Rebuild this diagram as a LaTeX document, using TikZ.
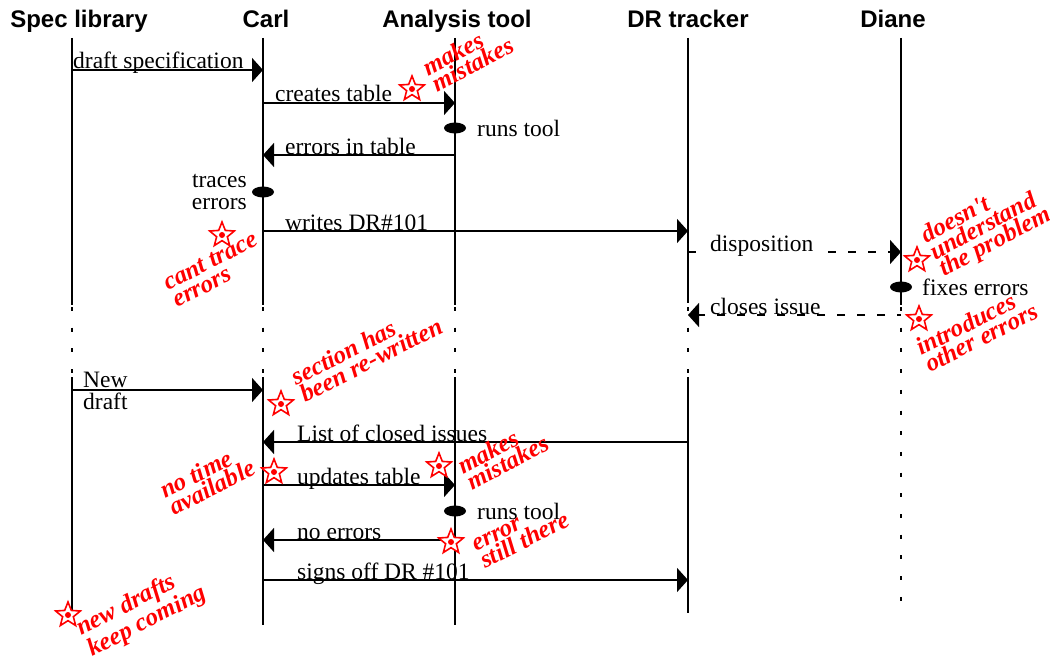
\documentclass[tikz,border=0pt]{standalone}
\usepackage{fontspec}
\setmainfont{Liberation Serif}
\newfontfamily\headfont{Liberation Sans}
\newfontfamily\notefont{Liberation Serif}
\usetikzlibrary{arrows.meta,shapes.geometric}

\tikzset{
  head/.style={font=\headfont\bfseries\fontsize{24}{26}\selectfont, anchor=base, inner sep=0pt},
  life/.style={line width=1.6pt},
  lifedash/.style={line width=1.3pt, dash pattern=on 4pt off 16.7pt},
  msg/.style={line width=1.6pt, -{Triangle[length=11pt,width=24pt]}},
  reply/.style={msg, dash pattern=on 8pt off 12pt},
  lbl/.style={font=\fontsize{23.5}{22}\selectfont, anchor=base west, inner sep=0pt},
  act/.style={ellipse, fill=black, minimum width=22pt, minimum height=11pt, inner sep=0pt},
  note/.style={text=red, font=\notefont\bfseries\itshape\fontsize{25}{19}\selectfont,
               align=left, anchor=base west, inner sep=0pt, rotate=27},
  flag/.style={star, star points=5, star point ratio=2.3, draw=red, line width=1.6pt,
               fill=white, minimum size=26pt, inner sep=0pt},
}

\begin{document}
\begin{tikzpicture}[x=1pt,y=-1pt]
\useasboundingbox (0,0) rectangle (1050,661);

% participants
\node[head] (hs) at (79,28)  {Spec library};
\node[head] (hc) at (266,28) {Carl};
\node[head] (ha) at (457,28) {Analysis tool};
\node[head] (hd) at (688,28) {DR tracker};
\node[head] (hn) at (893,28) {Diane};

% lifeline columns
\coordinate (xs) at (72,0);
\coordinate (xc) at (263,0);
\coordinate (xa) at (455,0);
\coordinate (xd) at (688,0);
\coordinate (xn) at (901,0);

% first session
\draw[life] (xs |- 0,38) -- (xs |- 0,305);
\draw[life] (xc |- 0,38) -- (xc |- 0,305);
\draw[life] (xa |- 0,38) -- (xa |- 0,305);
\draw[life] (xd |- 0,38) -- (xd |- 0,303);
\draw[life] (xn |- 0,38) -- (xn |- 0,305);
% pause between sessions
\draw[lifedash] (xs |- 0,307) -- (xs |- 0,376);
\draw[lifedash] (xc |- 0,307) -- (xc |- 0,376);
\draw[lifedash] (xa |- 0,307) -- (xa |- 0,376);
\draw[lifedash] (xd |- 0,307) -- (xd |- 0,376);
\draw[lifedash] (xn |- 0,307) -- (xn |- 0,616);
% second session
\draw[life] (xs |- 0,377) -- (xs |- 0,612);
\draw[life] (xc |- 0,377) -- (xc |- 0,625);
\draw[life] (xa |- 0,377) -- (xa |- 0,625);
\draw[life] (xd |- 0,377) -- (xd |- 0,613);

% messages, first session
\draw[msg] (xs |- 0,70) -- (xc |- 0,70);
\node[lbl] (t1) at (73,69) {draft specification};

\draw[msg] (xc |- 0,103) -- (xa |- 0,103);
\node[lbl] (t2) at (275,102) {creates table};

\node[act] (a1) at (xa |- 0,128) {};
\node[lbl, anchor=west] (t3) at (477,128) {runs tool};

\draw[msg] (xa |- 0,155) -- (xc |- 0,155);
\node[lbl] (t4) at (285,154) {errors in table};

\node[act] (a2) at (xc |- 0,192) {};
\node[lbl, anchor=east, align=right] (t5) at (247,192) {traces\\errors};

\draw[msg] (xc |- 0,231) -- (xd |- 0,231);
\node[lbl] (t6) at (285,230) {writes DR\#101};

\draw[reply] (xd |- 0,252) -- (xn |- 0,252);
\node[lbl, fill=white, inner xsep=3pt] (t7) at (707,251) {disposition};

\node[act] (a3) at (xn |- 0,287) {};
\node[lbl, anchor=west] (t8) at (922,287) {fixes errors};

\draw[reply, dash phase=4pt] (xn |- 0,315) -- (xd |- 0,315);
\node[lbl, fill=white, inner xsep=3pt] (t9) at (707,314) {closes issue};

% messages, second session
\draw[msg] (xs |- 0,390) -- (xc |- 0,390);
\node[lbl, anchor=west, align=left] (t10) at (83,391) {New\\draft};

\draw[msg] (xd |- 0,442) -- (xc |- 0,442);
\node[lbl] (t11) at (297,441) {List of closed issues};

\draw[msg] (xc |- 0,485) -- (xa |- 0,485);
\node[lbl] (t12) at (297,484) {updates table};

\node[act] (a4) at (xa |- 0,511) {};
\node[lbl, anchor=west] (t13) at (477,511) {runs tool};

\draw[msg] (xa |- 0,540) -- (xc |- 0,540);
\node[lbl] (t14) at (297,539) {no errors};

\draw[msg] (xc |- 0,580) -- (xd |- 0,580);
\node[lbl] (t15) at (297,579) {signs off DR \#101};

% problem markers
\foreach \p/\x/\y in {s1/412/89, s2/222/235, s3/917/260, s4/919/319, s5/281/404,
                      s6/274/472, s7/439/466, s8/451/542, s9/68/615}{
  \node[flag] (\p) at (\x,\y) {};
  \fill[red] (\p.center) circle (3pt);
}

% comments (anchored at the start of the last line's baseline)
\node[note, rotate=1] (n1) at (437,93)  {makes\\mistakes};
\node[note]           (n2) at (177,308) {cant trace\\errors};
\node[note, rotate=1] (n3) at (944,277) {doesn't\\understand\\the problem};
\node[note]           (n4) at (930,373) {introduces\\other errors};
\node[note]           (n5) at (305,403) {section has\\been re-written};
\node[note]           (n6) at (174,516) {no time\\available};
\node[note, rotate=1] (n7) at (472,491) {makes\\mistakes};
\node[note]           (n8) at (485,569) {error\\still there};
\node[note]           (n9) at (92,657)  {new drafts\\keep coming};
\end{tikzpicture}
\end{document}
